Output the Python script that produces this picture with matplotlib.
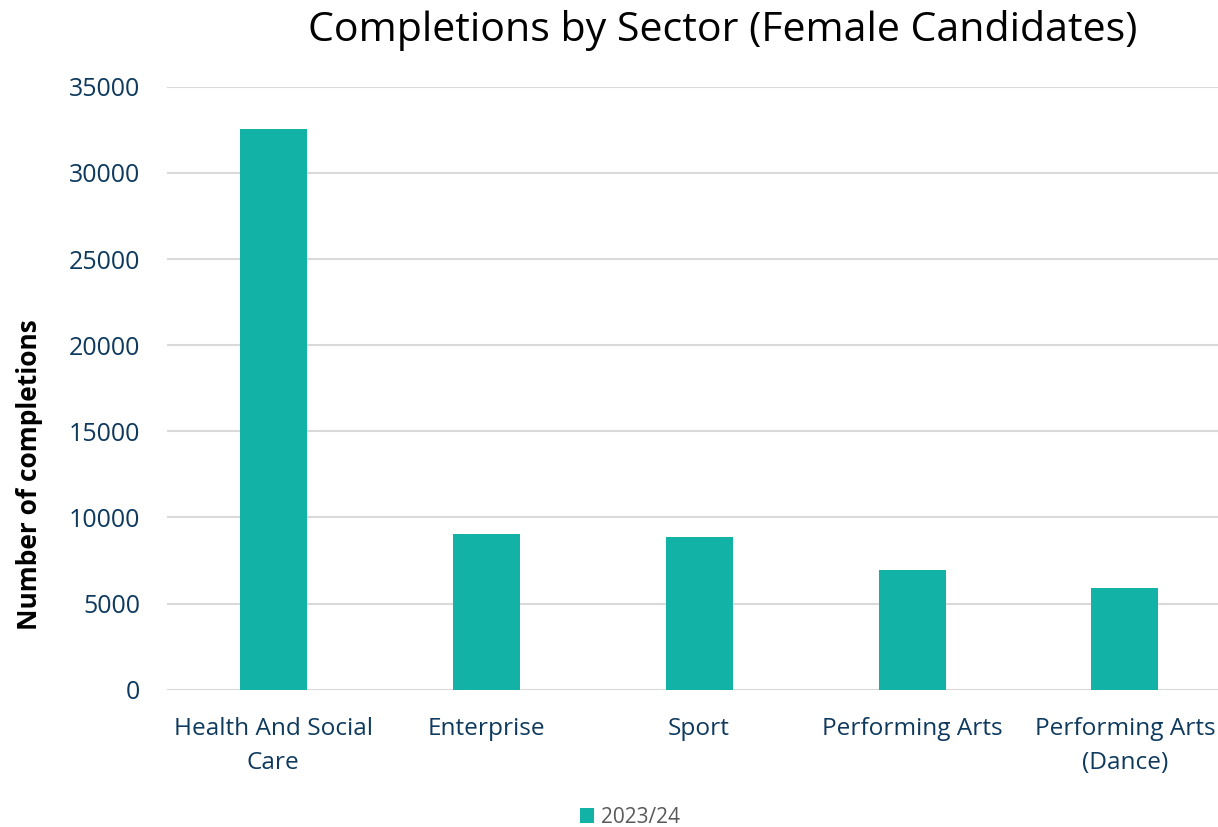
import matplotlib
matplotlib.use("Agg")
import matplotlib.pyplot as plt
from matplotlib.patches import Patch

categories = ["Health And Social\nCare", "Enterprise", "Sport", "Performing Arts", "Performing Arts\n(Dance)"]
values_2023_24 = [32550, 9060, 8890, 6970, 5930]
series_name = "2023/24"
yticks = [0, 5000, 10000, 15000, 20000, 25000, 30000, 35000]

plt.rcParams['font.family'] = ['Open Sans', 'DejaVu Sans']

bar_color = "#13B2A7"
navy = "#0E3A5E"

fig = plt.figure(figsize=(12.18, 8.27), dpi=100)
ax = fig.add_axes([0.137, 0.166, 0.874, 0.729])

x = list(range(len(categories)))
ax.bar(x, values_2023_24, width=0.315, color=bar_color, zorder=3)

ax.set_ylim(0, 35000)
ax.set_xlim(-0.5, len(categories) - 0.5)
ax.set_yticks(yticks)
ax.set_yticklabels([str(t) for t in yticks])
ax.set_xticks(x)
ax.set_xticklabels(categories, linespacing=1.55)
ax.tick_params(axis='y', length=0, pad=19, labelsize=18, labelcolor=navy)
ax.tick_params(axis='x', length=0, pad=20, labelsize=17.6, labelcolor=navy)

ax.yaxis.grid(True, color="#D9D9D9", linewidth=1.5, zorder=0)
ax.set_axisbelow(True)
for s in ax.spines.values():
    s.set_visible(False)

fig.text(30 / 1218, 1 - 475 / 827, "Number of completions", rotation=90, ha='center', va='center',
         fontsize=19, fontweight='bold', color='black')

fig.text(0.593, 0.963, "Completions by Sector (Female Candidates)", ha='center', va='center',
         fontsize=29.6, color='black')

handles = [Patch(facecolor=bar_color, label=series_name)]
leg = fig.legend(handles=handles, loc='center', bbox_to_anchor=(0.517, 0.012), frameon=False,
                 fontsize=15, handlelength=0.7, handleheight=0.7, handletextpad=0.3)
for t in leg.get_texts():
    t.set_color("#595959")

fig.savefig("out.png", dpi=100)
